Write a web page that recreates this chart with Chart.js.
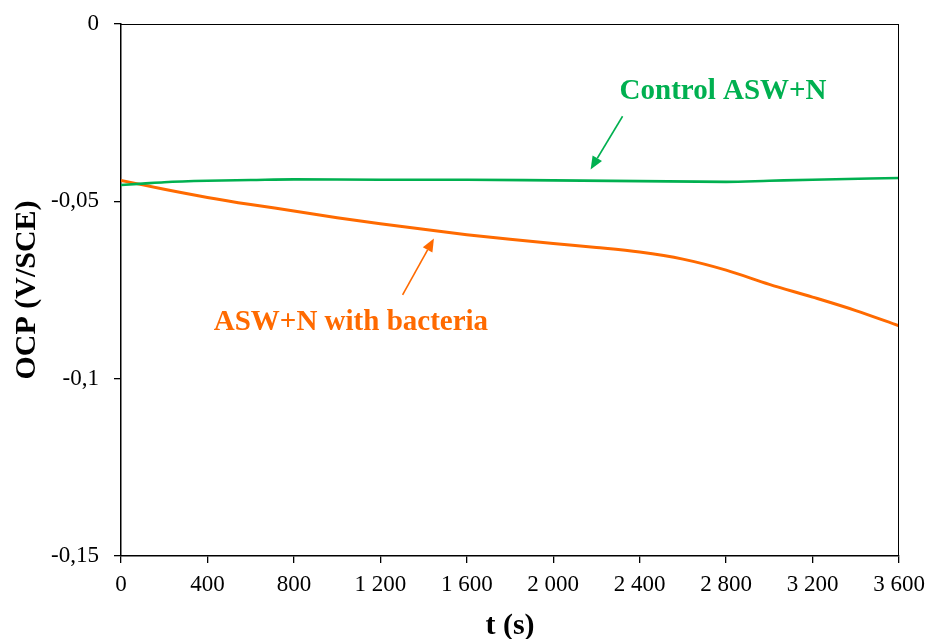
<!DOCTYPE html>
<html>
<head>
<meta charset="utf-8">
<script src="https://cdn.jsdelivr.net/npm/chart.js@4/dist/chart.umd.min.js"></script>
<style>
  html, body { margin: 0; padding: 0; background: #fff; }
  #wrap { width: 929px; height: 639px; position: relative; }
</style>
</head>
<body>
<div id="wrap"><canvas id="c" width="929" height="639"></canvas></div>
<script>
// ---- data ----
const controlTime = [0, 100, 200, 400, 600, 800, 1200, 1600, 2000, 2400, 2800, 3000, 3200, 3600];
const controlOCP  = [-0.0454, -0.0450, -0.0446, -0.0442, -0.0440, -0.0438, -0.0439, -0.0439, -0.0441, -0.0443, -0.0445, -0.0442, -0.0439, -0.0434];

const bacteriaTime = [0, 200, 400, 600, 800, 1000, 1200, 1400, 1600, 1800, 2000, 2200, 2400, 2600, 2800, 3000, 3200, 3400, 3600];
const bacteriaOCP  = [-0.0441, -0.0466, -0.0489, -0.0509, -0.0527, -0.0546, -0.0563, -0.0579, -0.0594, -0.0607, -0.0619, -0.0630, -0.0643, -0.0663, -0.0694, -0.0734, -0.0770, -0.0808, -0.0851];

const xTickValues = [0, 400, 800, 1200, 1600, 2000, 2400, 2800, 3200, 3600];
const xTickLabels = ['0', '400', '800', '1 200', '1 600', '2 000', '2 400', '2 800', '3 200', '3 600'];
const yTickValues = [0, -0.05, -0.1, -0.15];
const yTickLabels = ['0', '-0,05', '-0,1', '-0,15'];

const seriesNames = ['Control ASW+N', 'ASW+N with bacteria'];
// annotation anchors in data units: [t, V]
const controlLabelPos = [2786, -0.0212];
const controlArrow = [[2321, -0.0260], [2173, -0.0410]];
const bacteriaLabelPos = [1064, -0.0863];
const bacteriaArrow = [[1303, -0.0764], [1448, -0.0605]];

const GREEN = '#00B050';
const ORANGE = '#FF6A00';
const FONT = '"Liberation Serif", "Times New Roman", serif';

function pts(xs, ys) { return xs.map((x, i) => ({ x: x, y: ys[i] })); }

const annotPlugin = {
  id: 'annot',
  afterDraw(chart) {
    const ctx = chart.ctx;
    const xs = chart.scales.x, ys = chart.scales.y;
    const a = chart.chartArea;
    ctx.save();
    // top and right frame lines
    ctx.strokeStyle = '#000';
    ctx.lineWidth = 1;
    ctx.beginPath();
    ctx.moveTo(a.left, a.top + 0.5);
    ctx.lineTo(a.right, a.top + 0.5);
    ctx.moveTo(a.right - 0.5, a.top);
    ctx.lineTo(a.right - 0.5, a.bottom);
    ctx.stroke();

    function px(p) { return [xs.getPixelForValue(p[0]), ys.getPixelForValue(p[1])]; }
    function arrow(seg, color) {
      const [x1, y1] = px(seg[0]);
      const [x2, y2] = px(seg[1]);
      const ang = Math.atan2(y2 - y1, x2 - x1);
      const hl = 13, hw = 5.5;
      const bx = x2 - hl * Math.cos(ang), by = y2 - hl * Math.sin(ang);
      ctx.strokeStyle = color;
      ctx.fillStyle = color;
      ctx.lineWidth = 1.6;
      ctx.beginPath();
      ctx.moveTo(x1, y1);
      ctx.lineTo(bx, by);
      ctx.stroke();
      ctx.beginPath();
      ctx.moveTo(x2, y2);
      ctx.lineTo(bx + hw * Math.sin(ang), by - hw * Math.cos(ang));
      ctx.lineTo(bx - hw * Math.sin(ang), by + hw * Math.cos(ang));
      ctx.closePath();
      ctx.fill();
    }
    function label(text, pos, color) {
      const [x, y] = px(pos);
      ctx.fillStyle = color;
      ctx.font = 'bold 29px ' + FONT;
      ctx.textAlign = 'center';
      ctx.textBaseline = 'alphabetic';
      ctx.fillText(text, x, y);
    }
    arrow(controlArrow, GREEN);
    arrow(bacteriaArrow, ORANGE);
    label(seriesNames[0], controlLabelPos, GREEN);
    label(seriesNames[1], bacteriaLabelPos, ORANGE);
    ctx.restore();
  }
};

function zeroPad(scale) {
  scale.paddingLeft = 0;
  scale.paddingRight = 0;
  scale.paddingTop = 0;
  scale.paddingBottom = 0;
}

new Chart(document.getElementById('c'), {
  type: 'line',
  data: {
    datasets: [
      {
        label: seriesNames[0],
        data: pts(controlTime, controlOCP),
        borderColor: GREEN,
        borderWidth: 2.6,
        pointRadius: 0,
        cubicInterpolationMode: 'monotone',
        fill: false
      },
      {
        label: seriesNames[1],
        data: pts(bacteriaTime, bacteriaOCP),
        borderColor: ORANGE,
        borderWidth: 3,
        pointRadius: 0,
        cubicInterpolationMode: 'monotone',
        fill: false
      }
    ]
  },
  options: {
    responsive: false,
    animation: false,
    events: [],
    layout: { padding: { left: 0, top: 24, right: 30, bottom: 0 } },
    plugins: {
      legend: { display: false },
      tooltip: { enabled: false },
      title: { display: false }
    },
    scales: {
      x: {
        type: 'linear',
        min: 0,
        max: 3600,
        afterBuildTicks(scale) { scale.ticks = xTickValues.map(v => ({ value: v })); },
        afterFit(scale) { scale.height = 83; zeroPad(scale); },
        ticks: {
          autoSkip: false,
          maxRotation: 0,
          padding: 8,
          color: '#000',
          font: { family: FONT, size: 23 },
          callback(value) { const i = xTickValues.indexOf(value); return i >= 0 ? xTickLabels[i] : ''; }
        },
        grid: { drawOnChartArea: false, drawTicks: true, tickLength: 7, color: '#000', lineWidth: 1.3 },
        border: { display: true, color: '#000', width: 1.5 },
        title: {
          display: true,
          text: 't (s)',
          color: '#000',
          font: { family: FONT, size: 30, weight: 'bold', lineHeight: 1 },
          padding: { top: 0, bottom: -2 }
        }
      },
      y: {
        type: 'linear',
        min: -0.15,
        max: 0,
        afterBuildTicks(scale) { scale.ticks = yTickValues.map(v => ({ value: v })); },
        afterFit(scale) { scale.width = 121; zeroPad(scale); },
        ticks: {
          autoSkip: false,
          padding: 15,
          color: '#000',
          font: { family: FONT, size: 23 },
          callback(value) {
            const i = yTickValues.findIndex(v => Math.abs(v - value) < 1e-9);
            return i >= 0 ? yTickLabels[i] : '';
          }
        },
        grid: { drawOnChartArea: false, drawTicks: true, tickLength: 7, color: '#000', lineWidth: 1.3 },
        border: { display: true, color: '#000', width: 1.5 },
        title: {
          display: true,
          text: 'OCP (V/SCE)',
          color: '#000',
          font: { family: FONT, size: 30, weight: 'bold', lineHeight: 1 },
          padding: { top: 12, bottom: 0 }
        }
      }
    }
  },
  plugins: [annotPlugin]
});
</script>
</body>
</html>
